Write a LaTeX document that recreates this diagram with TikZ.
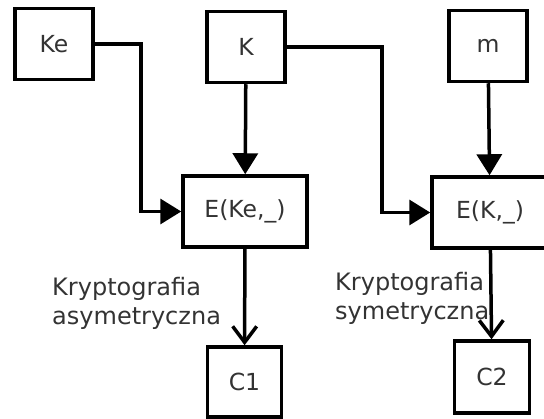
\documentclass[tikz,border=0pt]{standalone}
\usepackage{fontspec}
\setmainfont{DejaVu Sans}
\usetikzlibrary{positioning}
\usetikzlibrary{arrows.meta}

\begin{document}
\begin{tikzpicture}[x=1pt,y=-1pt,
box/.style={draw,line width=3.5pt,inner sep=0pt,minimum width=78pt,minimum height=71pt,text=black!80,font=\fontsize{23.5}{29}\selectfont},
strzalka/.style={line width=3.5pt,-{Triangle[length=21pt,width=25pt]}},
otwarta/.style={line width=3.5pt,-{Straight Barb[length=16pt,width=24pt]}},
opis/.style={align=left,inner sep=0pt,anchor=north west,text=black!80,font=\fontsize{24}{29}\selectfont}]
\useasboundingbox (0,0) rectangle (544,419);
\node[box] (Ke) at (54,44) {Ke};
\node[box] (K) at (246,47) {K};
\node[box] (m) at (488,46) {m};
\node[box,minimum width=124pt] (EKe) at (245,211.5) {E(Ke,\_)};
\node[box,minimum width=116pt] (EK) at (490,212.5) {E(K,\_)};
\node[box,minimum width=74pt,minimum height=70pt] (C1) at (244.5,382) {C1};
\node[box,minimum width=75pt,minimum height=72pt] (C2) at (492,377) {C2};
\node[opis] (asym) at (52,277) {Kryptografia\\asymetryczna};
\node[opis] (sym) at (335,272) {Kryptografia\\symetryczna};
\draw[strzalka] (Ke.east) -- ++(46,0) |- (EKe.west);
\draw[strzalka] (K) -- (EKe);
\draw[strzalka] (K.east) -- ++(95,0) |- (EK.west);
\draw[strzalka] (m) -- (EK);
\draw[otwarta] (EKe) -- (C1);
\draw[otwarta] (EK) -- (C2);
\end{tikzpicture}
\end{document}
